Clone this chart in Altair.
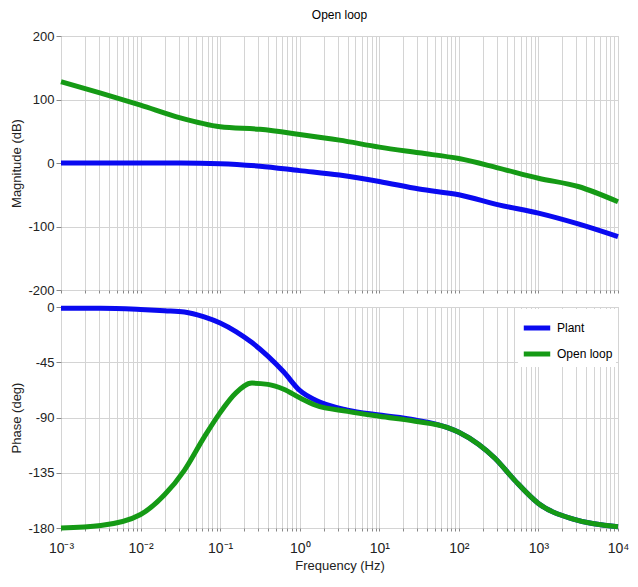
import altair as alt
import pandas as pd

# ---- data ----
mag_freq = [0.001, 0.00316, 0.01, 0.0316, 0.1, 0.316, 1, 3.16, 10, 31.6, 100, 316, 1000, 3162, 10000]
plant_mag = [0, 0, 0, 0, -1, -5, -12, -19, -29, -41, -50, -66, -79, -96, -116]
open_mag = [128, 110, 91, 71, 57, 53, 45, 36, 25, 16, 7, -8, -24, -37, -61]

phase_freq = [0.001, 0.00316, 0.01, 0.02, 0.0355, 0.063, 0.1, 0.158, 0.251, 0.398, 0.631,
              1, 1.585, 3.98, 10, 28.2, 70.8, 100, 178, 282, 501, 1000, 2818, 10000]
plant_phase = [-1, -1, -2, -3, -4, -8, -13, -20, -29, -40, -53,
               -68, -76, -84, -88, -92, -98, -102, -112, -123, -141, -160, -173, -179]
open_phase = [-180, -178, -169, -153, -133, -106, -86, -70, -62, -63, -67,
              -74, -80, -85, -89, -93, -98, -102, -112, -123, -141, -160, -173, -179]

series = ["Plant", "Open loop"]
colors = ["#0a0af0", "#159a15"]
decades = [-3, -2, -1, 0, 1, 2, 3, 4]
mag_ticks = [-200, -100, 0, 100, 200]
phase_ticks = [-180, -135, -90, -45, 0]
sup = {"-": "\u207b", "0": "\u2070", "1": "\u00b9", "2": "\u00b2", "3": "\u00b3", "4": "\u2074"}

mag_df = pd.DataFrame(
    {"f": mag_freq * 2, "v": plant_mag + open_mag,
     "s": [series[0]] * len(mag_freq) + [series[1]] * len(mag_freq)})
ph_df = pd.DataFrame(
    {"f": phase_freq * 2, "v": plant_phase + open_phase,
     "s": [series[0]] * len(phase_freq) + [series[1]] * len(phase_freq)})

grid_vals = []
for d in decades:
    for m in range(1, 10):
        if d == 4 and m > 1:
            break
        grid_vals.append(round(m * 10.0 ** d, 6))

E = "round(log(datum.value)/LN10)"
isdec = f"abs(log(datum.value)/LN10 - {E}) < 0.001"
expr = "''"
for d in reversed(decades):
    lab = "10" + "".join(sup[c] for c in str(d))
    expr = f"({E} == {d} ? '{lab}' : {expr})"
label_expr = f"{isdec} ? {expr} : ''"

FONT = "Liberation Sans"
W = 557

xscale = alt.Scale(type="log", domain=[0.001, 10000], nice=False)

top = alt.Chart(mag_df).mark_line(strokeWidth=5, interpolate="monotone").encode(
    x=alt.X("f:Q", scale=xscale,
            axis=alt.Axis(values=grid_vals, labels=False, title=None, tickSize=3,
                          grid=True)),
    y=alt.Y("v:Q", scale=alt.Scale(domain=[-200, 200], nice=False),
            axis=alt.Axis(values=mag_ticks, title="Magnitude (dB)",
                          labelExpr="'' + datum.value")),
    color=alt.Color("s:N", scale=alt.Scale(domain=series, range=colors), legend=None),
).properties(width=W, height=254,
             title=alt.TitleParams("Open loop", fontSize=12, fontWeight="normal",
                                   font=FONT, offset=8))

bottom = alt.Chart(ph_df).mark_line(strokeWidth=5, interpolate="monotone").encode(
    x=alt.X("f:Q", scale=xscale,
            axis=alt.Axis(values=grid_vals, labelExpr=label_expr, labelOverlap=False,
                          labelFlush=False, title="Frequency (Hz)", tickSize=3,
                          labelFontSize=14, labelPadding=10, titlePadding=4)),
    y=alt.Y("v:Q", scale=alt.Scale(domain=[-180, 0], nice=False),
            axis=alt.Axis(values=phase_ticks, title="Phase (deg)",
                          labelExpr="'' + datum.value")),
    color=alt.Color("s:N", scale=alt.Scale(domain=series, range=colors),
                    legend=alt.Legend(orient="top-right", title=None, symbolType="stroke",
                                      symbolStrokeWidth=5, symbolSize=700,
                                      labelFontSize=12, labelFont=FONT,
                                      fillColor="white", padding=3, offset=2,
                                      rowPadding=0)),
).properties(width=W, height=221)

chart = alt.vconcat(top, bottom, spacing=17, bounds="flush").resolve_legend(
    color="independent").configure_axis(
    labelFont=FONT, titleFont=FONT, labelFontSize=13, titleFontSize=13,
    titleFontWeight="normal", gridColor="#d4d4d4", gridWidth=1, domain=False,
    tickColor="#888888", labelColor="#222222", titleColor="#222222",
).configure_view(stroke="#c8c8c8", strokeWidth=1).properties(
    padding={"left": 2, "right": 0, "top": 0, "bottom": 0}, background="white")

chart.save("out.html", embed_options={"renderer": "svg", "actions": False})
